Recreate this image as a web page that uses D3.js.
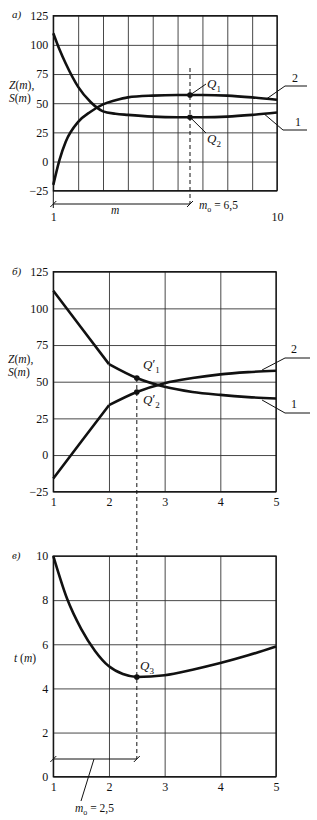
<!DOCTYPE html>
<html>
<head>
<meta charset="utf-8">
<script src="https://cdn.jsdelivr.net/npm/d3@7"></script>
<style>
  body { margin: 0; background: #fff; }
  svg text { font-family: "Liberation Serif", "DejaVu Serif", serif; fill: #111; }
</style>
</head>
<body>
<div id="chart"></div>
<script>
// ---------- data ----------
// panel a)
var mA  = [1, 1.25, 1.5, 2, 2.5, 3, 3.5, 4, 5, 6, 6.5, 7, 8, 9, 10];
var zA  = [110, 96, 84, 64, 51, 43, 41, 40, 38.5, 38, 38, 38, 38.5, 40, 42];      // curve 1
var sA  = [-20, 1.5, 17, 34, 42.7, 49, 52.5, 55, 56.5, 57, 57, 57, 56.5, 55, 53]; // curve 2
var mOptA = 6.5;

// panel б)
var mB  = [1, 1.5, 2, 2.5, 3, 3.5, 4, 4.5, 5];
var zB  = [112, 87, 62, 52.5, 46.5, 43, 41, 39.5, 38.5];   // curve 1
var sB  = [-16, 9, 34, 43, 49, 52.5, 55, 56.5, 57.5];      // curve 2
var kinkB = 2;   // both curves break at m = 2
var mOptB = 2.5;

// panel в)
var mC  = [1, 1.25, 1.5, 1.75, 2, 2.25, 2.5, 3, 3.5, 4, 4.5, 5];
var tC  = [10, 8.05, 6.7, 5.7, 5.0, 4.65, 4.52, 4.6, 4.85, 5.15, 5.5, 5.9];

// ticks
var yTicksZS = [-25, 0, 25, 50, 75, 100, 125];
var xTicksA  = [1, 2, 3, 4, 5, 6, 7, 8, 9, 10];
var xLabelsA = {1: "1", 10: "10"};
var xTicksBC = [1, 2, 3, 4, 5];
var yTicksC  = [0, 2, 4, 6, 8, 10];

// ---------- svg ----------
var svg = d3.select("#chart").append("svg")
    .attr("width", 317)
    .attr("height", 820);

var FS = 12;

function panel(opt) {
  var x = d3.scaleLinear().domain(opt.xd).range(opt.xr);
  var y = d3.scaleLinear().domain(opt.yd).range(opt.yr);
  var g = svg.append("g");

  // horizontal grid + y labels
  var ya = g.append("g")
      .attr("transform", "translate(" + opt.xr[0] + ",0)")
      .call(d3.axisLeft(y).tickValues(opt.yt).tickSize(-(opt.xr[1] - opt.xr[0])).tickPadding(5));
  // vertical grid + x labels
  var xa = g.append("g")
      .attr("transform", "translate(0," + opt.yr[0] + ")")
      .call(d3.axisBottom(x).tickValues(opt.xt).tickSize(-(opt.yr[0] - opt.yr[1]))
            .tickPadding(opt.xpad).tickFormat(opt.xf || d3.format("d")));

  [ya, xa].forEach(function(a) {
    a.select(".domain").remove();
    a.selectAll("line").attr("stroke", "#333").attr("stroke-width", 0.9);
    a.selectAll("text").attr("font-size", FS).attr("font-family", null).style("fill", "#111");
  });

  // frame
  g.append("rect")
      .attr("x", opt.xr[0]).attr("y", opt.yr[1])
      .attr("width", opt.xr[1] - opt.xr[0]).attr("height", opt.yr[0] - opt.yr[1])
      .attr("fill", "none").attr("stroke", "#111").attr("stroke-width", 1.3);

  return {x: x, y: y, g: g};
}

function curve(p, ms, vs, kind) {
  var pts = ms.map(function(m, i) { return [m, vs[i]]; });
  var line = d3.line()
      .x(function(d) { return p.x(d[0]); })
      .y(function(d) { return p.y(d[1]); })
      .curve(kind || d3.curveMonotoneX);
  p.g.append("path")
      .attr("d", line(pts))
      .attr("fill", "none")
      .attr("stroke", "#111")
      .attr("stroke-width", 2.6)
      .attr("stroke-linejoin", "round");
}

function dot(p, m, v) {
  p.g.append("circle").attr("cx", p.x(m)).attr("cy", p.y(v)).attr("r", 2.8).attr("fill", "#111");
}

function seg(x1, y1, x2, y2, w, dash) {
  svg.append("line")
      .attr("x1", x1).attr("y1", y1).attr("x2", x2).attr("y2", y2)
      .attr("stroke", "#111").attr("stroke-width", w || 1)
      .attr("stroke-dasharray", dash || null);
}

// text with italic / sub parts: parts = [[text, style]]
function label(x, y, parts, size) {
  var t = svg.append("text").attr("x", x).attr("y", y).attr("font-size", size || FS);
  parts.forEach(function(p) {
    var s = t.append("tspan").text(p[0]);
    if (p[1] && p[1].it) s.attr("font-style", "italic");
    if (p[1] && p[1].dy) s.attr("dy", p[1].dy);
    if (p[1] && p[1].dx) s.attr("dx", p[1].dx);
    if (p[1] && p[1].fs) s.attr("font-size", p[1].fs);
  });
  return t;
}

function qLabel(x, y, sub, prime) {
  var parts = [["Q", {it: true}]];
  if (prime) {
    parts.push(["\u2032", {dy: -1}]);
    parts.push([sub, {fs: 9, dy: 5}]);
  } else {
    parts.push([sub, {fs: 9, dy: 4}]);
  }
  label(x, y, parts, 13);
}

function dimTick(x, y) { seg(x - 3, y + 3, x + 3, y - 3, 1); }

function zsLabel(x, y) {
  label(x, y, [["Z", {it: true}], ["("], ["m", {it: true}], ["),"]], 11.5);
  label(x, y + 13, [["S", {it: true}], ["("], ["m", {it: true}], [")"]], 11.5);
}

// ================= a) =================
var pA = panel({xd: [1, 10], xr: [53.3, 277], yd: [-25, 125], yr: [190.7, 15.7],
                yt: yTicksZS, xt: xTicksA, xpad: 22,
                xf: function(d) { return xLabelsA[d] || ""; }});
curve(pA, mA, zA);
curve(pA, mA, sA);

var xoA = pA.x(mOptA);
var q1A = sA[mA.indexOf(mOptA)], q2A = zA[mA.indexOf(mOptA)];
seg(xoA, 68, xoA, 204, 1, "4,3");
dot(pA, mOptA, q1A);
dot(pA, mOptA, q2A);
seg(xoA, pA.y(q1A), 206, 84, 1);
seg(xoA, pA.y(q2A), 206, 133, 1);
qLabel(207, 88, "1");
qLabel(207, 143, "2");

// dimension m
seg(pA.x(1), 190.7, pA.x(1), 208, 1);
seg(pA.x(1), 204, xoA, 204, 1);
dimTick(pA.x(1), 204);
dimTick(xoA, 204);
label(111, 214, [["m", {it: true}]], 11.5);
label(199, 209, [["m", {it: true}], ["o", {fs: 8, dy: 3}], [" = 6,5", {dy: -3}]], 11.5);

// curve numbers
var endA = mA.length - 1;
seg(pA.x(9.6), pA.y(sA[endA] + 1), 285, 86, 1);
seg(285, 86, 307, 86, 1);
label(292, 82, [["2"]], 12);
seg(pA.x(9.5), pA.y(zA[endA] - 1.5), 283, 130, 1);
seg(283, 130, 307, 130, 1);
label(295, 126, [["1"]], 12);

label(12, 18, [["а)", {it: true}]], 11);
zsLabel(9, 89);

// ================= б) =================
var pB = panel({xd: [1, 5], xr: [53.3, 276], yd: [-25, 125], yr: [491.7, 271.7],
                yt: yTicksZS, xt: xTicksBC, xpad: 6});
var k = mB.indexOf(kinkB);
curve(pB, mB.slice(0, k + 1), zB.slice(0, k + 1), d3.curveLinear);
curve(pB, mB.slice(k), zB.slice(k));
curve(pB, mB.slice(0, k + 1), sB.slice(0, k + 1), d3.curveLinear);
curve(pB, mB.slice(k), sB.slice(k));

var xoB = pB.x(mOptB);
var q1B = zB[mB.indexOf(mOptB)], q2B = sB[mB.indexOf(mOptB)];

var endB = mB.length - 1;
seg(pB.x(4.75), pB.y(sB[endB] + 0.5), 285, 358, 1);
seg(285, 358, 310, 358, 1);
label(291, 353, [["2"]], 12);
seg(pB.x(4.75), pB.y(zB[endB] - 1), 285, 413, 1);
seg(285, 413, 310, 413, 1);
label(291, 408, [["1"]], 12);

label(12, 275, [["б)", {it: true}]], 11);
zsLabel(8, 363);

// ================= в) =================
var pC = panel({xd: [1, 5], xr: [53.3, 276], yd: [0, 10], yr: [776.7, 556],
                yt: yTicksC, xt: xTicksBC, xpad: 6});
curve(pC, mC, tC);

var q3C = tC[mC.indexOf(mOptB)];

// shared dashed line from Q'1 down to the m_o dimension
seg(xoB, pB.y(q1B), xoB, 759, 1, "4,3");
dot(pB, mOptB, q1B);
dot(pB, mOptB, q2B);
dot(pC, mOptB, q3C);
qLabel(143, 369, "1", true);
qLabel(143, 404, "2", true);
qLabel(140, 670, "3");

// dimension m_o = 2,5
seg(pC.x(1), 759, xoB, 759, 1);
dimTick(pC.x(1), 759);
dimTick(xoB, 759);
seg(94, 759, 81, 801, 1);
label(75, 812, [["m", {it: true}], ["o", {fs: 8, dy: 3}], [" = 2,5", {dy: -3}]], 11.5);

label(12, 559, [["в)", {it: true}]], 11);
label(14, 662, [["t", {it: true}], [" ("], ["m", {it: true}], [")"]], 11.5);
</script>
</body>
</html>
